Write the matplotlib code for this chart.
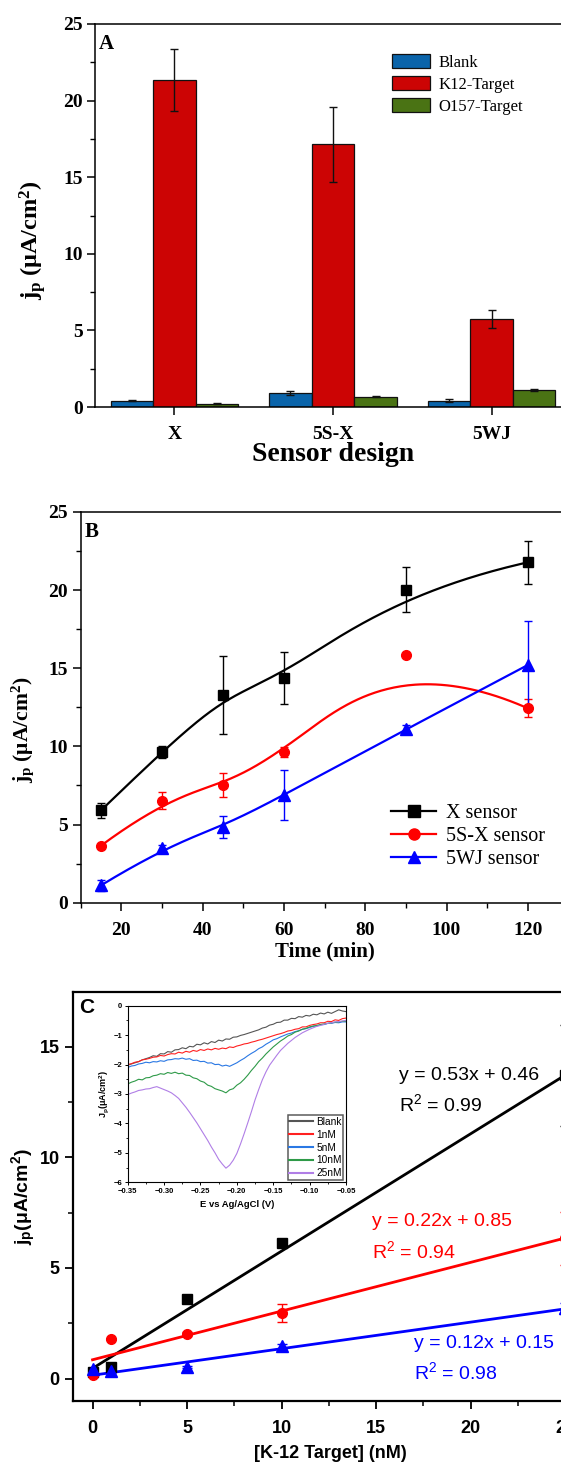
import numpy as np
import matplotlib
matplotlib.use('Agg')
import matplotlib.pyplot as plt
from matplotlib.ticker import MultipleLocator

# ---------------- Panel A data ----------------
designs = ['X', '5S-X', '5WJ']
blank_vals = [0.42, 0.90, 0.42]
blank_err = [0.05, 0.12, 0.10]
k12_vals = [21.35, 17.15, 5.75]
k12_err = [2.05, 2.45, 0.58]
o157_vals = [0.20, 0.68, 1.10]
o157_err = [0.03, 0.03, 0.05]
bar_labels = ['Blank', 'K12-Target', 'O157-Target']

# ---------------- Panel B data ----------------
time_min = [15, 30, 45, 60, 90, 120]
x_sensor = [5.91, 9.66, 13.29, 14.40, 20.03, 21.78]
x_sensor_err = [0.48, 0.38, 2.50, 1.66, 1.43, 1.39]
s5x_sensor = [3.65, 6.53, 7.51, 9.64, 15.87, 12.44]
s5x_sensor_err = [0.10, 0.53, 0.77, 0.30, 0.0, 0.58]
wj_sensor = [1.11, 3.48, 4.86, 6.89, 11.09, 15.21]
wj_sensor_err = [0.35, 0.20, 0.70, 1.58, 0.25, 2.80]
sensor_labels = ['X sensor', '5S-X sensor', '5WJ sensor']

# ---------------- Panel C data ----------------
conc = [0, 1, 5, 10, 25]
c_x = [0.30, 0.51, 3.58, 6.11, 13.70]
c_x_err = [0.05, 0.05, 0.10, 0.10, 2.30]
c_5sx = [0.17, 1.78, 2.02, 2.95, 6.35]
c_5sx_err = [0.05, 0.05, 0.10, 0.40, 1.20]
c_5wj = [0.42, 0.32, 0.54, 1.45, 3.18]
c_5wj_err = [0.05, 0.05, 0.05, 0.10, 0.25]
fit_slope = [0.53, 0.22, 0.12]
fit_intercept = [0.46, 0.85, 0.15]
fit_r2 = [0.99, 0.94, 0.98]

# ---------------- Inset (DPV curves) ----------------
potential = np.linspace(-0.35, -0.05, 61)
dpv_labels = ['Blank', '1nM', '5nM', '10nM', '25nM']
dpv_blank = [-2.02, -1.98, -1.94, -1.90, -1.84, -1.80, -1.76, -1.70, -1.72, -1.63,
             -1.64, -1.56, -1.58, -1.50, -1.49, -1.43, -1.46, -1.38, -1.40, -1.31,
             -1.33, -1.26, -1.30, -1.22, -1.25, -1.17, -1.20, -1.13, -1.14, -1.07,
             -1.06, -1.01, -0.98, -0.94, -0.90, -0.86, -0.82, -0.76, -0.73, -0.66,
             -0.63, -0.57, -0.56, -0.49, -0.49, -0.43, -0.44, -0.37, -0.39, -0.33,
             -0.35, -0.29, -0.31, -0.25, -0.28, -0.22, -0.26, -0.20, -0.14, -0.18,
             -0.20]
dpv_1nM = [-2.00, -1.97, -1.92, -1.90, -1.84, -1.82, -1.79, -1.75, -1.74, -1.69,
           -1.71, -1.66, -1.63, -1.64, -1.58, -1.61, -1.55, -1.58, -1.52, -1.55,
           -1.49, -1.52, -1.47, -1.50, -1.45, -1.48, -1.44, -1.46, -1.40, -1.42,
           -1.37, -1.34, -1.30, -1.28, -1.24, -1.21, -1.17, -1.14, -1.10, -1.06,
           -1.02, -0.98, -0.95, -0.91, -0.86, -0.84, -0.80, -0.78, -0.72, -0.72,
           -0.67, -0.64, -0.62, -0.58, -0.58, -0.53, -0.54, -0.48, -0.50, -0.44,
           -0.42]
dpv_5nM = [-2.10, -2.05, -2.03, -1.98, -1.96, -1.92, -1.94, -1.90, -1.91, -1.87,
           -1.89, -1.84, -1.83, -1.80, -1.81, -1.78, -1.82, -1.80, -1.86, -1.85,
           -1.90, -1.89, -1.95, -1.94, -2.00, -1.99, -2.05, -2.02, -2.06, -2.00,
           -1.94, -1.86, -1.79, -1.70, -1.62, -1.55, -1.46, -1.40, -1.31, -1.24,
           -1.16, -1.12, -1.06, -1.01, -0.96, -0.93, -0.88, -0.85, -0.80, -0.78,
           -0.74, -0.70, -0.69, -0.65, -0.64, -0.60, -0.60, -0.57, -0.58, -0.55,
           -0.55]
dpv_10nM = [-2.66, -2.60, -2.56, -2.50, -2.52, -2.45, -2.44, -2.38, -2.36, -2.31,
            -2.33, -2.27, -2.30, -2.26, -2.31, -2.29, -2.36, -2.37, -2.45, -2.48,
            -2.56, -2.60, -2.70, -2.74, -2.82, -2.86, -2.90, -2.96, -2.86, -2.82,
            -2.70, -2.62, -2.50, -2.36, -2.20, -2.06, -1.90, -1.78, -1.64, -1.52,
            -1.40, -1.30, -1.20, -1.12, -1.03, -0.98, -0.90, -0.86, -0.80, -0.77,
            -0.72, -0.69, -0.67, -0.64, -0.62, -0.60, -0.58, -0.56, -0.55, -0.53,
            -0.52]
dpv_25nM = [-3.02, -2.97, -2.93, -2.88, -2.86, -2.83, -2.82, -2.78, -2.75, -2.80,
            -2.85, -2.90, -2.96, -3.05, -3.15, -3.30, -3.45, -3.62, -3.80, -3.98,
            -4.18, -4.38, -4.58, -4.80, -5.00, -5.22, -5.38, -5.52, -5.42, -5.25,
            -5.02, -4.70, -4.35, -3.98, -3.60, -3.20, -2.85, -2.52, -2.25, -2.02,
            -1.85, -1.68, -1.52, -1.40, -1.28, -1.18, -1.08, -1.00, -0.92, -0.86,
            -0.80, -0.75, -0.70, -0.67, -0.63, -0.60, -0.58, -0.55, -0.54, -0.52,
            -0.50]

W, H = 561, 1464
DPI = 100
SERIF = 'Liberation Serif'
SANS = 'Liberation Sans'
plt.rcParams['font.family'] = SERIF


def fx(px):
    return px / W


def fy(py):
    return 1 - py / H


def bspline(xs, ys, n=300, k=3):
    """Clamped cubic B-spline using the data points as control points (Origin 'B-Spline' connect)."""
    P = np.column_stack([xs, ys]).astype(float)
    m = len(P)
    knots = np.concatenate([np.zeros(k), np.arange(m - k + 1), np.full(k, m - k)]).astype(float)
    t = np.linspace(0, m - k - 1e-9, n)

    def N(i, p):
        if p == 0:
            return np.where((knots[i] <= t) & (t < knots[i + 1]), 1.0, 0.0)
        out = np.zeros_like(t)
        d1 = knots[i + p] - knots[i]
        if d1 > 0:
            out += (t - knots[i]) / d1 * N(i, p - 1)
        d2 = knots[i + p + 1] - knots[i + 1]
        if d2 > 0:
            out += (knots[i + p + 1] - t) / d2 * N(i + 1, p - 1)
        return out

    B = np.array([N(i, k) for i in range(m)])
    C = B.T @ P
    return C[:, 0], C[:, 1]


fig = plt.figure(figsize=(W / DPI, H / DPI), dpi=DPI)

# =============== Panel A ===============
axA = fig.add_axes([fx(95), fy(407), fx(571) - fx(95), fy(24) - fy(407)])
pos = np.arange(1, len(designs) + 1)
bw = 0.268
colsA = ['#0a64aa', '#cc0404', '#4a7314']
for off, vals, errs, col, lab in zip([-bw, 0, bw],
                                     [blank_vals, k12_vals, o157_vals],
                                     [blank_err, k12_err, o157_err],
                                     colsA, bar_labels):
    axA.bar(pos + off, vals, width=bw, color=col, edgecolor='#111111', linewidth=0.9,
            yerr=errs, error_kw=dict(ecolor='#111111', elinewidth=1.0, capsize=3.2, capthick=1.0),
            label=lab, zorder=2)
axA.set_xlim(0.5, 3.5)
axA.set_ylim(0, 25)
axA.set_xticks(pos)
axA.set_xticklabels(designs, fontsize=14, fontweight='bold', family=SERIF)
axA.yaxis.set_major_locator(MultipleLocator(5))
axA.yaxis.set_minor_locator(MultipleLocator(2.5))
for lab in axA.get_yticklabels():
    lab.set_fontweight('bold')
    lab.set_fontsize(14)
axA.tick_params(axis='both', which='major', direction='out', length=6, width=1.1, pad=3)
axA.tick_params(axis='y', which='minor', direction='out', length=3.5, width=1.0)
axA.tick_params(axis='x', which='major', pad=8)
for s in axA.spines.values():
    s.set_linewidth(1.1)
axA.set_ylabel(r'$\mathregular{j_p}$ (μA/cm$\mathregular{^2}$)', fontsize=17.5, fontweight='bold',
               family=SERIF)
axA.yaxis.set_label_coords(-0.098, 0.436)
axA.set_xlabel('Sensor design', fontsize=20, fontweight='bold', family=SERIF, labelpad=-1)
axA.text(0.008, 0.975, 'A', transform=axA.transAxes, fontsize=15, fontweight='bold',
         family=SERIF, ha='left', va='top')
legA = axA.legend(loc='upper left', bbox_to_anchor=(fx(392), fy(54)), bbox_transform=fig.transFigure,
                  frameon=False, borderpad=0, borderaxespad=0, handlelength=2.25, handleheight=0.95,
                  handletextpad=0.55, labelspacing=0.3, prop=dict(family=SERIF, size=12))

# =============== Panel B ===============
axB = fig.add_axes([fx(80.7), fy(902.7), fx(80.7 + 120 * 4.065) - fx(80.7), fy(512) - fy(902.7)])
colsB = ['black', '#ff0000', '#0000ff']
markersB = ['s', 'o', '^']
for ys, es, col, mk, lab in zip([x_sensor, s5x_sensor, wj_sensor],
                                [x_sensor_err, s5x_sensor_err, wj_sensor_err],
                                colsB, markersB, sensor_labels):
    cx, cy = bspline(time_min, ys)
    axB.plot(cx, cy, color=col, lw=1.6, zorder=2)
    axB.errorbar(time_min, ys, yerr=es, fmt='none', ecolor=col, elinewidth=1.0, capsize=3.2,
                 capthick=1.0, zorder=3)
    axB.plot(time_min, ys, linestyle='none', marker=mk, color=col, markersize=7 if mk != '^' else 8,
             zorder=4)
    axB.plot([], [], color=col, lw=1.6, marker=mk, markersize=8, label=lab)
axB.set_xlim(10, 130)
axB.set_ylim(0, 25)
axB.xaxis.set_major_locator(MultipleLocator(20))
axB.xaxis.set_minor_locator(MultipleLocator(10))
axB.yaxis.set_major_locator(MultipleLocator(5))
axB.yaxis.set_minor_locator(MultipleLocator(2.5))
for lab in axB.get_xticklabels() + axB.get_yticklabels():
    lab.set_fontweight('bold')
    lab.set_fontsize(14)
axB.tick_params(axis='both', which='major', direction='out', length=6, width=1.1)
axB.tick_params(axis='both', which='minor', direction='out', length=3.5, width=1.0)
axB.tick_params(axis='x', which='major', pad=8)
for s in axB.spines.values():
    s.set_linewidth(1.1)
axB.set_ylabel(r'$\mathregular{j_p}$ (μA/cm$\mathregular{^2}$)', fontsize=15.5, fontweight='bold',
               family=SERIF)
axB.yaxis.set_label_coords(-0.092, 0.443)
axB.set_xlabel('Time (min)', fontsize=15, fontweight='bold', family=SERIF, labelpad=2)
axB.text(0.008, 0.975, 'B', transform=axB.transAxes, fontsize=15, fontweight='bold',
         family=SERIF, ha='left', va='top')
handles, labels = axB.get_legend_handles_labels()
axB.legend(handles[-3:], labels[-3:], loc='upper left', bbox_to_anchor=(fx(391), fy(804)),
           bbox_transform=fig.transFigure, frameon=False, borderpad=0, borderaxespad=0,
           handlelength=2.25, handletextpad=0.5, labelspacing=0.2,
           prop=dict(family=SERIF, size=14.5))

# =============== Panel C ===============
c_left, c_unit = 72.7, 18.9
axC = fig.add_axes([fx(c_left), fy(1400.7), fx(c_left + 27.3 * c_unit) - fx(c_left), fy(992) - fy(1400.7)])
colsC = ['black', '#ff0000', '#0000ff']
markersC = ['s', 'o', '^']
fit_x = np.array([min(conc), max(conc)], dtype=float)
for ys, es, col, mk, sl, ic in zip([c_x, c_5sx, c_5wj], [c_x_err, c_5sx_err, c_5wj_err],
                                   colsC, markersC, fit_slope, fit_intercept):
    axC.plot(fit_x, sl * fit_x + ic, color=col, lw=2.0, zorder=2)
    axC.errorbar(conc, ys, yerr=es, fmt='none', ecolor=col, elinewidth=1.0, capsize=3.5,
                 capthick=1.0, zorder=3)
    axC.plot(conc, ys, linestyle='none', marker=mk, color=col,
             markersize=7 if mk != '^' else 8.5, zorder=4)
axC.set_xlim(-1.05, 26.25)
axC.set_ylim(-1.0, 17.47)
axC.xaxis.set_major_locator(MultipleLocator(5))
axC.xaxis.set_minor_locator(MultipleLocator(2.5))
axC.yaxis.set_major_locator(MultipleLocator(5))
axC.yaxis.set_minor_locator(MultipleLocator(2.5))
for lab in axC.get_xticklabels() + axC.get_yticklabels():
    lab.set_fontweight('bold')
    lab.set_fontsize(13)
    lab.set_family(SANS)
axC.tick_params(axis='both', which='major', direction='out', length=6, width=1.3)
axC.tick_params(axis='both', which='minor', direction='out', length=3.5, width=1.1)
axC.tick_params(axis='x', which='major', pad=8)
for s in axC.spines.values():
    s.set_linewidth(1.6)
axC.set_ylabel(r'$\mathregular{j_p}$(μA/cm$\mathregular{^2}$)', fontsize=14, fontweight='bold',
               family=SANS, labelpad=1)
axC.set_xlabel('[K-12 Target] (nM)', fontsize=13, fontweight='bold', family=SANS, labelpad=6)
axC.text(0.012, 0.985, 'C', transform=axC.transAxes, fontsize=15, fontweight='bold',
         family=SANS, ha='left', va='top')

ann_pos = [(399, 1075), (372, 1222), (414, 1343)]
for (px, py), col, sl, ic, r2 in zip(ann_pos, colsC, fit_slope, fit_intercept, fit_r2):
    fig.text(fx(px), fy(py), f'y = {sl:.2f}x + {ic:.2f}', color=col, fontsize=14,
             family=SANS, ha='left', va='center')
    fig.text(fx(px), fy(py + 29), r'R$\mathregular{^2}$ = ' + f'{r2:.2f}', color=col,
             fontsize=14, family=SANS, ha='left', va='center')

# =============== Inset ===============
axI = fig.add_axes([fx(127.7), fy(1182.3), fx(346) - fx(127.7), fy(1005.7) - fy(1182.3)])
colsI = ['#555555', '#ff2020', '#2a78e4', '#2e9a48', '#b07ee6']
for ys, col, lab in zip([dpv_blank, dpv_1nM, dpv_5nM, dpv_10nM, dpv_25nM], colsI, dpv_labels):
    axI.plot(potential, ys, color=col, lw=0.8, label=lab)
axI.set_xlim(-0.35, -0.05)
axI.set_ylim(-6, 0)
axI.xaxis.set_major_locator(MultipleLocator(0.05))
axI.xaxis.set_minor_locator(MultipleLocator(0.025))
axI.yaxis.set_major_locator(MultipleLocator(1))
axI.yaxis.set_minor_locator(MultipleLocator(0.5))
axI.xaxis.set_major_formatter(matplotlib.ticker.FuncFormatter(lambda v, p: f'{v:.2f}'.replace('-', '\u2212')))
axI.yaxis.set_major_formatter(matplotlib.ticker.FuncFormatter(lambda v, p: f'{v:.0f}'.replace('-', '\u2212')))
for lab in axI.get_xticklabels() + axI.get_yticklabels():
    lab.set_fontsize(5.5)
    lab.set_family(SANS)
    lab.set_fontweight('bold')
axI.tick_params(axis='both', which='major', direction='out', length=2.5, width=0.7, pad=1.5)
axI.tick_params(axis='both', which='minor', direction='out', length=1.5, width=0.6)
for s in axI.spines.values():
    s.set_linewidth(0.8)
axI.set_xlabel('E vs Ag/AgCl (V)', fontsize=6.8, fontweight='bold', family=SANS, labelpad=4)
axI.set_ylabel(r'$\mathregular{J_p}$(μA/cm$\mathregular{^2}$)', fontsize=6.5, fontweight='bold',
               family=SANS, labelpad=1.5)
legI = axI.legend(loc='lower right', frameon=True, fancybox=False, borderpad=0.15,
                  borderaxespad=0.25, handlelength=2.4, handletextpad=0.3, labelspacing=0.28,
                  prop=dict(family=SANS, size=7.3))
legI.get_frame().set_edgecolor('#333333')
legI.get_frame().set_linewidth(1.1)
for ln in legI.get_lines():
    ln.set_linewidth(1.5)

fig.savefig('out.png', dpi=DPI)
